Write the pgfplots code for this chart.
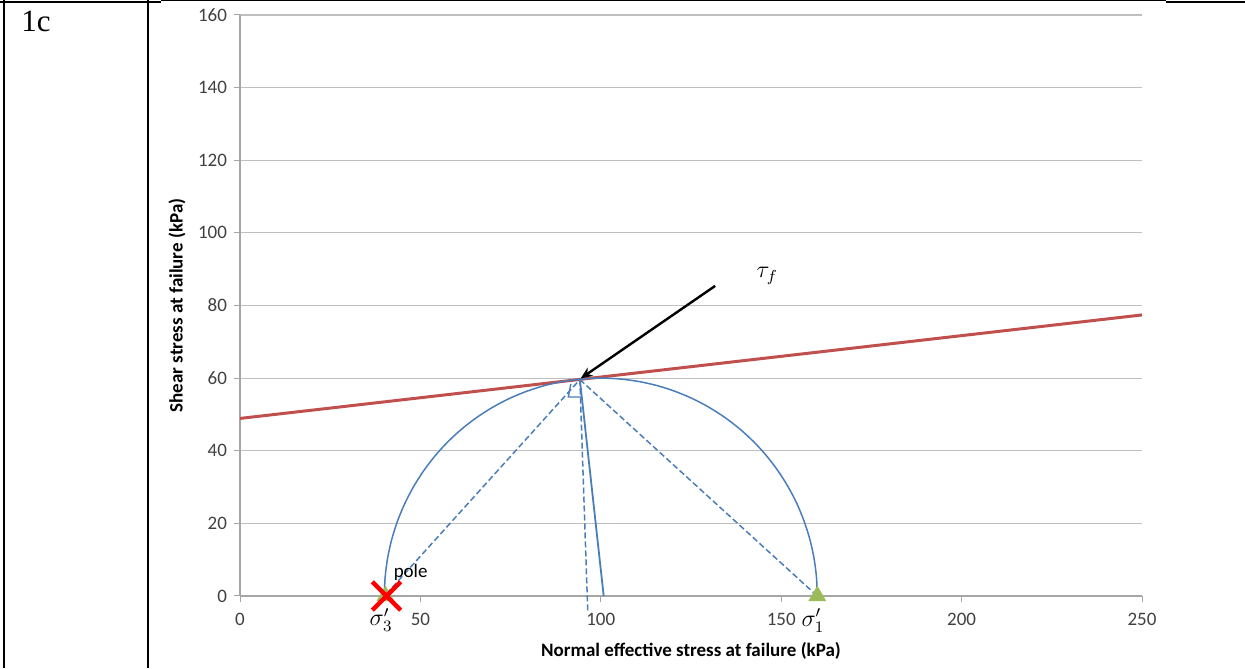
\documentclass[border=0pt]{standalone}
\usepackage{fontspec}
\setmainfont{Carlito}
\newfontfamily\serifone{Liberation Serif}
\usepackage{pgfplots}
\pgfplotsset{compat=1.18}
\usetikzlibrary{arrows.meta}
\definecolor{redline}{HTML}{C0504D}
\definecolor{blueline}{HTML}{4A7EBB}
\definecolor{greenmk}{HTML}{9BBB59}
\definecolor{tickgray}{HTML}{404040}
\definecolor{gridgray}{HTML}{BFBFBF}
\definecolor{axgray}{HTML}{A6A6A6}
\begin{document}
\begin{tikzpicture}
\path[use as bounding box] (0,0) rectangle (622.5pt,334pt);
% table borders
\draw[line width=1pt] (2.15pt,0) -- (2.15pt,334pt);
\draw[line width=1pt] (73.85pt,0) -- (73.85pt,334pt);
\draw[line width=1pt] (0,333pt) -- (80.5pt,333pt);
\draw[line width=0.5pt] (80.5pt,333.6pt) -- (583pt,333.6pt);
\draw[line width=1pt] (583pt,333pt) -- (622.5pt,333pt);
\node[anchor=base west, inner sep=0pt, font=\serifone\fontsize{15.5}{18}\selectfont] at (10.5pt,318pt) {1c};
\begin{axis}[
  at={(120pt,36pt)}, anchor=south west,
  scale only axis, width=451pt, height=290.5pt,
  xmin=0, xmax=250, ymin=0, ymax=160,
  xtick={0,50,...,250}, ytick={0,20,...,160},
  axis lines=left, axis line style={-, draw=axgray, line width=0.6pt},
  ymajorgrids, grid style={draw=gridgray, line width=0.6pt},
  tick align=outside, major tick length=3pt,
  tick style={draw=axgray, line width=0.5pt},
  /pgf/number format/assume math mode=true,
  ticklabel style={font=\fontsize{9.5}{11}\selectfont, text=tickgray},
  xticklabel style={yshift=-2pt},
  xlabel={\textbf{Normal effective stress at failure (kPa)}},
  ylabel={\textbf{Shear stress at failure (kPa)}},
  label style={font=\fontsize{9.5}{11}\selectfont},
  xlabel style={at={(axis description cs:0.5,0)}, anchor=center, yshift=-27.5pt},
  ylabel style={at={(axis description cs:0,0.5)}, anchor=center, yshift=31.5pt},
  clip=false,
]
% failure envelope
\addplot[redline, line width=1.5pt] coordinates {(0,48.9) (250,77.4)};
% Mohr circle
\addplot[blueline, line width=0.75pt, smooth] coordinates {
(160,0) (159.77,5.23) (159.09,10.42) (157.96,15.53) (156.38,20.52) (154.38,25.36)
(151.96,30) (149.15,34.41) (145.96,38.57) (142.43,42.43) (138.57,45.96) (134.41,49.15)
(130,51.96) (125.36,54.38) (120.52,56.38) (115.53,57.96) (110.42,59.09) (105.23,59.77)
(100,60) (94.77,59.77) (89.58,59.09) (84.47,57.96) (79.48,56.38) (74.64,54.38)
(70,51.96) (65.59,49.15) (61.43,45.96) (57.57,42.43) (54.04,38.57) (50.85,34.41)
(48.04,30) (45.62,25.36) (43.62,20.52) (42.04,15.53) (40.91,10.42) (40.23,5.23) (40,0)};
% radius (solid)
\addplot[blueline, line width=0.9pt] coordinates {(94.2,59.6) (100.8,0)};
% dashed lines
\addplot[blueline, line width=0.75pt, dash pattern=on 3pt off 1.5pt] coordinates {(40.5,0.5) (94.2,59.6)};
\addplot[blueline, line width=0.75pt, dash pattern=on 3pt off 1.5pt] coordinates {(94.2,59.6) (160,0)};
\addplot[blueline, line width=0.75pt, dash pattern=on 3pt off 1.5pt] coordinates {(94.2,59.6) (96.4,-4.8)};
% right-angle box
\addplot[blueline, line width=0.7pt] coordinates {(91.7,58.4) (91.0,54.8) (94.5,54.8)};
% arrow
\addplot[black, line width=1.2pt, -{Stealth[length=6pt,width=5pt]}] coordinates {(131.7,85.4) (94.4,59.9)};
% markers
\addplot[only marks, mark=triangle*, mark size=4.8pt, color=greenmk] coordinates {(40.3,0) (160,0)};
\addplot[only marks, mark=x, mark size=10pt, mark options={line width=2.2pt}, color=red] coordinates {(40.6,0)};
% labels
\node[font=\fontsize{9.5}{11}\selectfont] at (axis cs:47.3,6.6) {pole};
\node at (axis cs:39.1,-6.6) {\fontsize{11.5}{13}\selectfont$\sigma_3'$};
\node at (axis cs:158.8,-6.8) {\fontsize{11.5}{13}\selectfont$\sigma_1'$};
\node at (axis cs:146.1,88.1) {\fontsize{11.5}{13}\selectfont$\tau_f$};
\end{axis}
\end{tikzpicture}
\end{document}
